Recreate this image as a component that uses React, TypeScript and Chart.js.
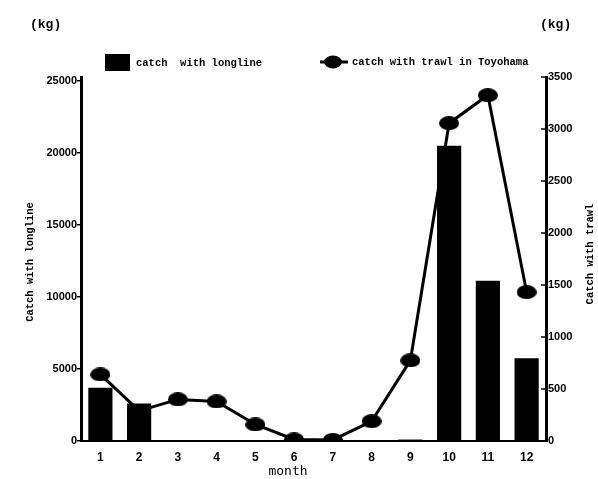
import React, { useEffect, useRef } from "react";
import { Chart, registerables } from "chart.js";

Chart.register(...registerables);

// Monthly catch data (kg)
const months = ["1", "2", "3", "4", "5", "6", "7", "8", "9", "10", "11", "12"];
const longlineCatch = [3700, 2600, 0, 0, 0, 0, 0, 0, 100, 20500, 11130, 5740];
const trawlCatch = [640, 290, 400, 380, 159, 15, 10, 190, 775, 3056, 3325, 1432];
const leftTicks = [0, 5000, 10000, 15000, 20000, 25000];
const rightTicks = [0, 500, 1000, 1500, 2000, 2500, 3000, 3500];

const MONO = "'Liberation Mono', 'DejaVu Sans Mono', monospace";
const SANS = "'Liberation Sans', Arial, sans-serif";

function makeEllipse(w: number, h: number): HTMLCanvasElement {
  const c = document.createElement("canvas");
  c.width = w;
  c.height = h;
  const g = c.getContext("2d")!;
  g.fillStyle = "#000";
  g.beginPath();
  g.ellipse(w / 2, h / 2, w / 2, h / 2, 0, 0, Math.PI * 2);
  g.fill();
  return c;
}

const decorations = {
  id: "decorations",
  afterDraw(chart: any) {
    const ctx = chart.ctx as CanvasRenderingContext2D;
    const yR = chart.scales.yRight;
    const area = chart.chartArea;
    ctx.save();
    ctx.fillStyle = "#000";
    ctx.strokeStyle = "#000";

    // inward tick marks on the right axis
    ctx.lineWidth = 1.5;
    for (const v of rightTicks) {
      const y = yR.getPixelForValue(v);
      ctx.beginPath();
      ctx.moveTo(area.right - 5, y);
      ctx.lineTo(area.right, y);
      ctx.stroke();
    }

    // units
    ctx.font = `bold 13px ${MONO}`;
    ctx.textBaseline = "middle";
    ctx.textAlign = "left";
    ctx.fillText("(kg)", 30, 25);
    ctx.fillText("(kg)", 540, 25);

    // legend
    ctx.font = `bold 10.5px ${MONO}`;
    ctx.fillRect(105, 54, 25, 17);
    ctx.fillText("catch  with longline", 136, 63);
    ctx.lineWidth = 3;
    ctx.beginPath();
    ctx.moveTo(320, 62);
    ctx.lineTo(348, 62);
    ctx.stroke();
    ctx.beginPath();
    ctx.ellipse(333, 62, 9, 6.5, 0, 0, Math.PI * 2);
    ctx.fill();
    ctx.fillText("catch with trawl in Toyohama", 352, 62);

    // axis titles
    ctx.textAlign = "center";
    ctx.save();
    ctx.translate(30, 262);
    ctx.rotate(-Math.PI / 2);
    ctx.fillText("Catch with longline", 0, 0);
    ctx.restore();
    ctx.save();
    ctx.translate(590, 254);
    ctx.rotate(-Math.PI / 2);
    ctx.fillText("Catch with trawl", 0, 0);
    ctx.restore();

    ctx.font = `13px 'DejaVu Sans Mono', monospace`;
    ctx.fillText("month", 288, 472);
    ctx.restore();
  },
};

export default function App() {
  const ref = useRef<HTMLCanvasElement>(null);

  useEffect(() => {
    const marker = makeEllipse(20, 14);
    const chart = new Chart(ref.current!, {
      type: "bar",
      data: {
        labels: months,
        datasets: [
          {
            type: "bar",
            label: "catch  with longline",
            data: longlineCatch,
            backgroundColor: "#000",
            borderWidth: 0,
            yAxisID: "yLeft",
            order: 0,
            categoryPercentage: 0.8,
            barPercentage: 0.78,
          },
          {
            type: "line",
            label: "catch with trawl in Toyohama",
            data: trawlCatch,
            borderColor: "#000",
            borderWidth: 3,
            pointStyle: marker as any,
            pointRadius: 8,
            yAxisID: "yRight",
            order: 1,
          },
        ],
      },
      options: {
        responsive: false,
        animation: false,
        layout: { padding: { top: 77, bottom: 0, left: 0, right: 0 } },
        plugins: {
          legend: { display: false },
          tooltip: { enabled: false },
        },
        scales: {
          x: {
            offset: true,
            grid: { display: false, drawTicks: false },
            border: { display: true, color: "#000", width: 2 },
            ticks: {
              color: "#000",
              font: { family: SANS, size: 12, weight: "bold" },
              padding: 9,
              maxRotation: 0,
            },
            afterFit: (s: any) => {
              s.height = 38;
            },
          },
          yLeft: {
            position: "left",
            min: 0,
            max: 25280,
            afterBuildTicks: (s: any) => {
              s.ticks = leftTicks.map((v) => ({ value: v }));
            },
            grid: {
              display: true,
              drawOnChartArea: false,
              drawTicks: true,
              tickLength: 4,
              color: "#000",
              lineWidth: 1.5,
            },
            border: { display: true, color: "#000", width: 3 },
            ticks: {
              color: "#000",
              font: { family: SANS, size: 11, weight: "bold" },
              padding: 0,
              callback: (v: any) => String(v),
            },
            afterFit: (s: any) => {
              s.width = 81;
            },
          },
          yRight: {
            position: "right",
            min: 0,
            max: 3500,
            afterBuildTicks: (s: any) => {
              s.ticks = rightTicks.map((v) => ({ value: v }));
            },
            grid: { display: true, drawOnChartArea: false, drawTicks: false },
            border: { display: true, color: "#000", width: 3 },
            ticks: {
              color: "#000",
              font: { family: SANS, size: 11, weight: "bold" },
              padding: 2,
              callback: (v: any) => String(v),
            },
            afterFit: (s: any) => {
              s.width = 52;
            },
          },
        },
      },
      plugins: [decorations],
    });
    return () => chart.destroy();
  }, []);

  return (
    <div style={{ position: "fixed", left: 0, top: 0, width: 598, height: 479, background: "#fff" }}>
      <canvas ref={ref} width={598} height={479} />
    </div>
  );
}
